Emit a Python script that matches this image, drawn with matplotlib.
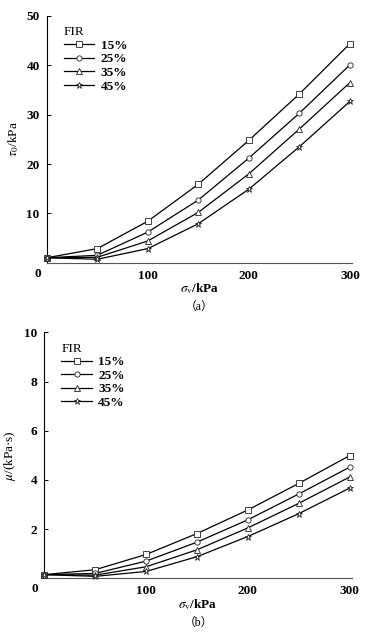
import numpy as np
import matplotlib
matplotlib.use("Agg")
import matplotlib.pyplot as plt

plt.rcParams['font.family'] = ['Liberation Serif', 'Noto Sans CJK SC']
plt.rcParams['mathtext.fontset'] = 'stix'

sv = [0, 50, 100, 150, 200, 250, 300]
fir_labels = ["15%", "25%", "35%", "45%"]
markers = ['s', 'o', '^', '*']

# yield stress tau0 (kPa)
tau_15 = [1.0, 2.85, 8.4, 15.9, 24.8, 34.2, 44.4]
tau_25 = [1.0, 1.5, 6.2, 12.7, 21.2, 30.3, 40.1]
tau_35 = [1.0, 1.1, 4.4, 10.2, 18.0, 27.1, 36.5]
tau_45 = [1.0, 0.7, 2.85, 7.9, 14.9, 23.5, 32.7]

# viscosity mu (kPa s)
mu_15 = [0.15, 0.35, 0.97, 1.82, 2.78, 3.86, 4.99]
mu_25 = [0.15, 0.20, 0.70, 1.47, 2.38, 3.43, 4.52]
mu_35 = [0.15, 0.13, 0.47, 1.16, 2.05, 3.05, 4.12]
mu_45 = [0.15, 0.08, 0.28, 0.88, 1.70, 2.63, 3.67]

FS = 9.5

def draw(ax, series, ymax, ystep, ylabel, tag):
	for vals, mk, lab in zip(series, markers, fir_labels):
		ms = 5 if mk == '*' else 3.8
		ax.plot(sv, vals, color='k', lw=0.9, marker=mk, ms=ms, mfc='white',
				mec='#222222', mew=0.6, label=lab, clip_on=False, zorder=3)
	ax.set_xlim(0, 302)
	ax.set_ylim(0, ymax)
	ax.set_xticks([100, 200, 300])
	ax.set_yticks(np.arange(ystep, ymax + ystep / 2, ystep))
	for s in ['top', 'right']:
		ax.spines[s].set_visible(False)
	ax.spines['bottom'].set_color('#555555')
	ax.tick_params(axis='y', direction='in', length=3, width=0.7, pad=5, labelsize=FS)
	ax.tick_params(axis='x', length=0, pad=5, labelsize=FS)
	for t in ax.get_xticklabels() + ax.get_yticklabels():
		t.set_fontweight('bold')
	ax.text(-0.03, -0.02, "0", transform=ax.transAxes, ha='center', va='top',
			fontsize=FS, fontweight='bold')
	ax.set_ylabel(ylabel, fontsize=FS, labelpad=4)
	ax.set_xlabel(r'$\sigma_\mathrm{v}$' + '/kPa', fontsize=FS, labelpad=0, fontweight='bold')
	ax.text(0.5, -0.155, tag, transform=ax.transAxes, ha='center', va='top', fontsize=8.5)
	leg = ax.legend(loc='upper left', bbox_to_anchor=(0.03, 0.99), title='FIR', frameon=False,
					fontsize=FS, title_fontsize=FS, handlelength=2.3, labelspacing=0.1,
					handletextpad=0.5, borderaxespad=0.2)
	leg._legend_box.align = 'left'
	for t in leg.get_texts():
		t.set_fontweight('bold')

fig = plt.figure(figsize=(3.75, 6.37), dpi=100)
ax1 = fig.add_axes([0.1245, 0.5876, 0.814, 0.3873])
ax2 = fig.add_axes([0.118, 0.0921, 0.82, 0.3862])

draw(ax1, [tau_15, tau_25, tau_35, tau_45], 50, 10, r'$\tau_0$' + '/kPa', '（a）')
draw(ax2, [mu_15, mu_25, mu_35, mu_45], 10, 2, r'$\mu$' + '/(kPa·s)', '（b）')

fig.savefig("out.png", dpi=100)
